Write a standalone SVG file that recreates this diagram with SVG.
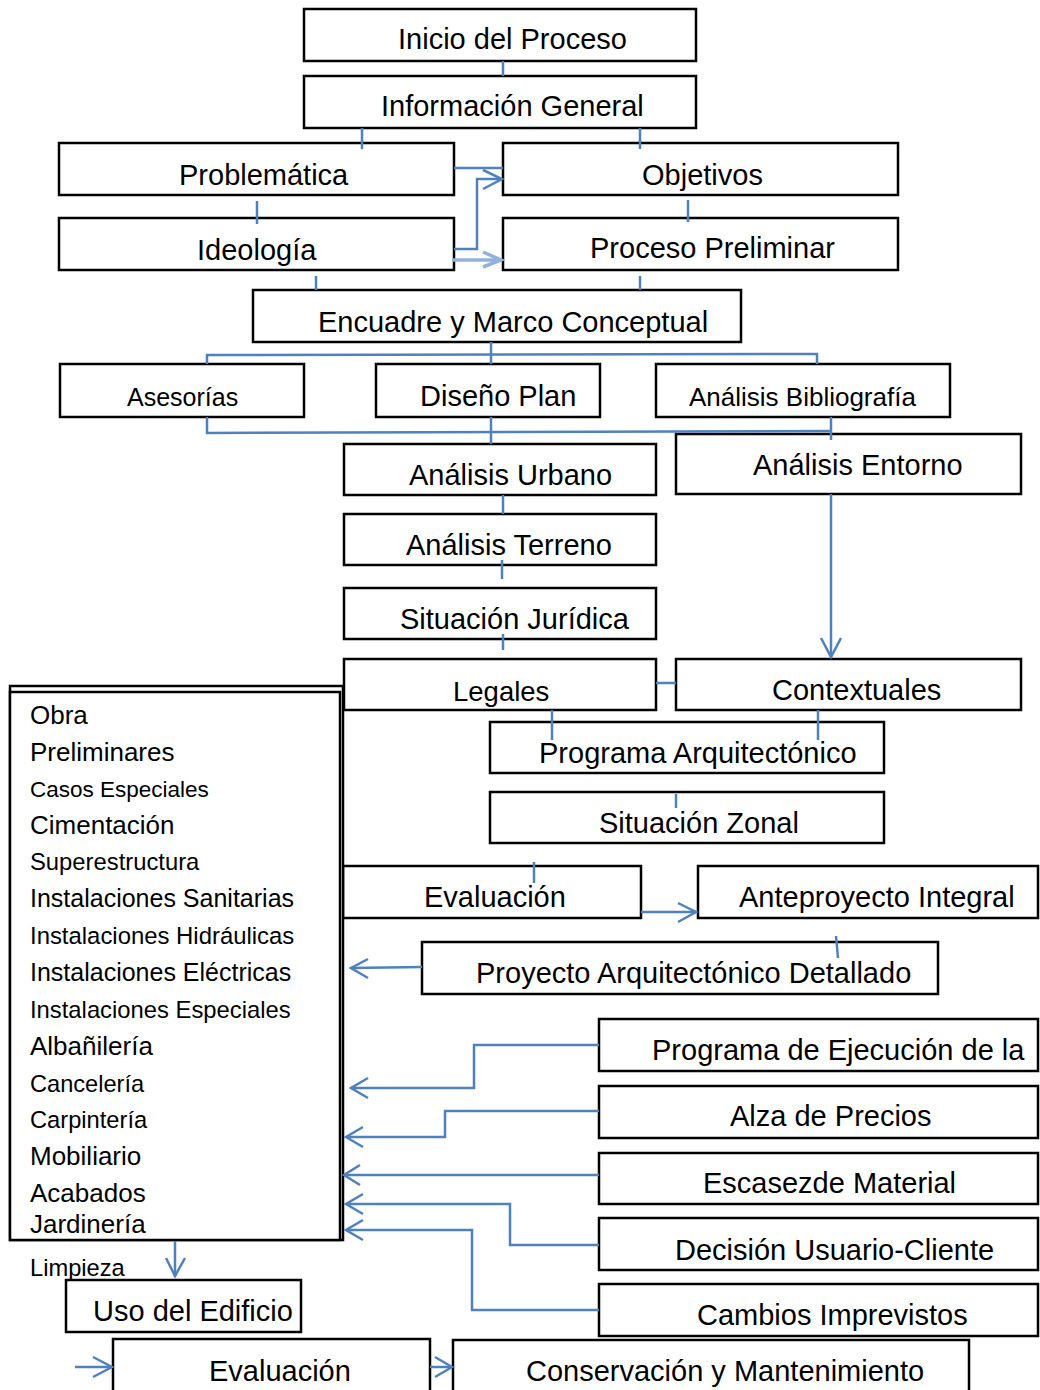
<svg xmlns="http://www.w3.org/2000/svg" width="1040" height="1390" viewBox="0 0 1040 1390">
<defs>
<style>
.b{fill:#fff;stroke:#000;stroke-width:2.5}
.t{font-family:"Liberation Sans",Arial,sans-serif;font-size:29px;fill:#000}
.s{font-family:"Liberation Sans",Arial,sans-serif;font-size:26px;fill:#000}
.c{fill:none;stroke:#4f81bd;stroke-width:2.5}
.lt{fill:none;stroke:#93b1dc;stroke-width:3.5}
</style>
</defs>
<rect width="1040" height="1390" fill="#fff"/>

<g id="n-inicio"><rect class="b" x="304" y="9" width="392" height="52"/><text class="t" x="398" y="49">Inicio del Proceso</text></g>
<g id="n-info"><rect class="b" x="304" y="76" width="392" height="52"/><text class="t" x="381" y="116">Información General</text></g>
<g id="n-problematica"><rect class="b" x="59" y="143" width="395" height="52"/><text class="t" x="179" y="185">Problemática</text></g>
<g id="n-objetivos"><rect class="b" x="503" y="143" width="395" height="52"/><text class="t" x="642" y="185">Objetivos</text></g>
<g id="n-ideologia"><rect class="b" x="59" y="218" width="395" height="52"/><text class="t" x="197" y="260">Ideología</text></g>
<g id="n-preliminar"><rect class="b" x="503" y="218" width="395" height="52"/><text class="t" x="590" y="258">Proceso Preliminar</text></g>
<g id="n-encuadre"><rect class="b" x="253" y="290" width="488" height="52"/><text class="t" x="318" y="332">Encuadre y Marco Conceptual</text></g>
<g id="n-asesorias"><rect class="b" x="60" y="364" width="244" height="53"/><text class="t" style="font-size:25px" x="127" y="406">Asesorías</text></g>
<g id="n-diseno"><rect class="b" x="376" y="364" width="224" height="53"/><text class="t" x="420" y="406">Diseño Plan</text></g>
<g id="n-biblio"><rect class="b" x="656" y="364" width="294" height="53"/><text class="t" style="font-size:26px" x="689" y="406">Análisis Bibliografía</text></g>
<g id="n-entorno"><rect class="b" x="676" y="434" width="345" height="60"/><text class="t" x="753" y="475">Análisis Entorno</text></g>
<g id="n-urbano"><rect class="b" x="344" y="444" width="312" height="51"/><text class="t" x="409" y="485">Análisis Urbano</text></g>
<g id="n-terreno"><rect class="b" x="344" y="514" width="312" height="51"/><text class="t" x="406" y="555">Análisis Terreno</text></g>
<g id="n-juridica"><rect class="b" x="344" y="588" width="312" height="51"/><text class="t" x="400" y="629">Situación Jurídica</text></g>
<g id="n-legales"><rect class="b" x="344" y="659" width="312" height="51"/><text class="t" style="font-size:27.5px" x="453" y="701">Legales</text></g>
<g id="n-contextuales"><rect class="b" x="676" y="659" width="345" height="51"/><text class="t" x="772" y="700">Contextuales</text></g>
<g id="n-programa"><rect class="b" x="490" y="722" width="394" height="51"/><text class="t" x="539" y="763">Programa Arquitectónico</text></g>
<g id="n-zonal"><rect class="b" x="490" y="792" width="394" height="51"/><text class="t" x="599" y="833">Situación Zonal</text></g>
<g id="n-evaluacion1"><rect class="b" x="343" y="866" width="298" height="52"/><text class="t" x="424" y="907">Evaluación</text></g>
<g id="n-anteproyecto"><rect class="b" x="698" y="866" width="340" height="52"/><text class="t" x="739" y="907">Anteproyecto Integral</text></g>
<g id="n-proyecto"><rect class="b" x="422" y="942" width="516" height="52"/><text class="t" x="476" y="983">Proyecto Arquitectónico Detallado</text></g>
<g id="n-ejecucion"><rect class="b" x="599" y="1019" width="439" height="52"/><text class="t" x="652" y="1060">Programa de Ejecución de la</text></g>
<g id="n-alza"><rect class="b" x="599" y="1086" width="439" height="52"/><text class="t" x="730" y="1126">Alza de Precios</text></g>
<g id="n-escasez"><rect class="b" x="599" y="1153" width="439" height="51"/><text class="t" x="703" y="1193">Escasezde Material</text></g>
<g id="n-decision"><rect class="b" x="599" y="1218" width="439" height="52"/><text class="t" x="675" y="1260">Decisión Usuario-Cliente</text></g>
<g id="n-cambios"><rect class="b" x="599" y="1284" width="439" height="52"/><text class="t" x="697" y="1325">Cambios Imprevistos</text></g>

<g id="n-obra">
<rect class="b" x="10" y="686" width="333" height="554"/>
<rect class="b" x="10" y="692" width="330" height="548"/>
<text class="s" x="30" y="724">Obra</text>
<text class="s" x="30" y="761">Preliminares</text>
<text class="s" style="font-size:22.5px" x="30" y="797">Casos Especiales</text>
<text class="s" x="30" y="834">Cimentación</text>
<text class="s" style="font-size:23.8px" x="30" y="870">Superestructura</text>
<text class="s" style="font-size:25px" x="30" y="907">Instalaciones Sanitarias</text>
<text class="s" style="font-size:23.9px" x="30" y="944">Instalaciones Hidráulicas</text>
<text class="s" style="font-size:25px" x="30" y="981">Instalaciones Eléctricas</text>
<text class="s" style="font-size:23.8px" x="30" y="1018">Instalaciones Especiales</text>
<text class="s" x="30" y="1055">Albañilería</text>
<text class="s" style="font-size:23.6px" x="30" y="1092">Cancelería</text>
<text class="s" style="font-size:23.7px" x="30" y="1128">Carpintería</text>
<text class="s" x="30" y="1165">Mobiliario</text>
<text class="s" x="30" y="1202">Acabados</text>
<text class="s" x="30" y="1233">Jardinería</text>
</g>
<text id="t-limpieza" class="s" style="font-size:23.7px" x="30" y="1276">Limpieza</text>

<g id="n-uso"><rect class="b" x="66" y="1280" width="235" height="52"/><text class="t" x="93" y="1321">Uso del Edificio</text></g>
<g id="n-evaluacion2"><rect class="b" x="113" y="1339" width="317" height="70"/><text class="t" x="209" y="1381">Evaluación</text></g>
<g id="n-conservacion"><rect class="b" x="453" y="1340" width="516" height="70"/><text class="t" x="526" y="1381">Conservación y Mantenimiento</text></g>

<g id="connectors">
<line class="c" x1="503" y1="61" x2="503" y2="76"/>
<line class="c" x1="362" y1="128" x2="362" y2="149"/>
<line class="c" x1="640" y1="128" x2="640" y2="149"/>
<line class="c" x1="257" y1="201" x2="257" y2="224"/>
<line class="c" x1="688" y1="200" x2="688" y2="222"/>
<line class="c" x1="454" y1="168" x2="503" y2="168"/>
<polyline class="c" points="454,249 477,249 477,179 502,179"/>
<polyline class="c" points="483,170 502,179 483,189"/>
<line class="lt" x1="452" y1="260" x2="501" y2="260"/>
<polyline class="lt" points="483,252 501,260 483,267"/>
<line class="c" x1="316" y1="276" x2="316" y2="290"/>
<line class="c" x1="640" y1="276" x2="640" y2="290"/>
<line class="c" x1="491" y1="342" x2="491" y2="364"/>
<polyline class="c" points="207,364 207,355 817,354 817,364"/>
<polyline class="c" points="207,417 207,433 831,431"/>
<line class="c" x1="831" y1="417" x2="831" y2="440"/>
<line class="c" x1="491" y1="417" x2="491" y2="444"/>
<line class="c" x1="503" y1="495" x2="503" y2="514"/>
<line class="c" x1="502" y1="560" x2="502" y2="579"/>
<line class="c" x1="503" y1="634" x2="503" y2="650"/>
<line class="c" x1="831" y1="494" x2="831" y2="657"/>
<polyline class="c" points="821,638 831,657 841,638"/>
<line class="c" x1="656" y1="683" x2="676" y2="683"/>
<line class="c" x1="552" y1="710" x2="552" y2="740"/>
<line class="c" x1="818" y1="710" x2="818" y2="740"/>
<line class="c" x1="676" y1="794" x2="676" y2="808"/>
<line class="c" x1="534" y1="862" x2="534" y2="883"/>
<line class="c" x1="641" y1="912" x2="696" y2="912"/>
<polyline class="c" points="678,903 696,912 678,922"/>
<line class="c" x1="836" y1="936" x2="838" y2="958"/>
<line class="c" x1="422" y1="967" x2="351" y2="968"/>
<polyline class="c" points="368,959 351,968 368,978"/>
<polyline class="c" points="599,1045 474,1045 474,1088 351,1088"/>
<polyline class="c" points="368,1078 351,1088 368,1098"/>
<polyline class="c" points="599,1111 445,1111 445,1137 346,1137"/>
<polyline class="c" points="363,1127 346,1137 363,1147"/>
<line class="c" x1="599" y1="1175" x2="344" y2="1175"/>
<polyline class="c" points="360,1165 344,1175 360,1185"/>
<polyline class="c" points="599,1245 510,1245 510,1204 346,1204"/>
<polyline class="c" points="363,1194 346,1204 363,1214"/>
<polyline class="c" points="599,1310 472,1310 472,1230 346,1230"/>
<polyline class="c" points="363,1220 346,1230 363,1240"/>
<line class="c" x1="175" y1="1241" x2="175" y2="1276"/>
<polyline class="c" points="166,1258 175,1276 185,1258"/>
<line class="c" x1="75" y1="1367" x2="112" y2="1367"/>
<polyline class="c" points="93,1357 112,1367 93,1377"/>
<line class="c" x1="430" y1="1367" x2="452" y2="1367"/>
<polyline class="c" points="435,1357 452,1367 435,1377"/>
</g>
</svg>
